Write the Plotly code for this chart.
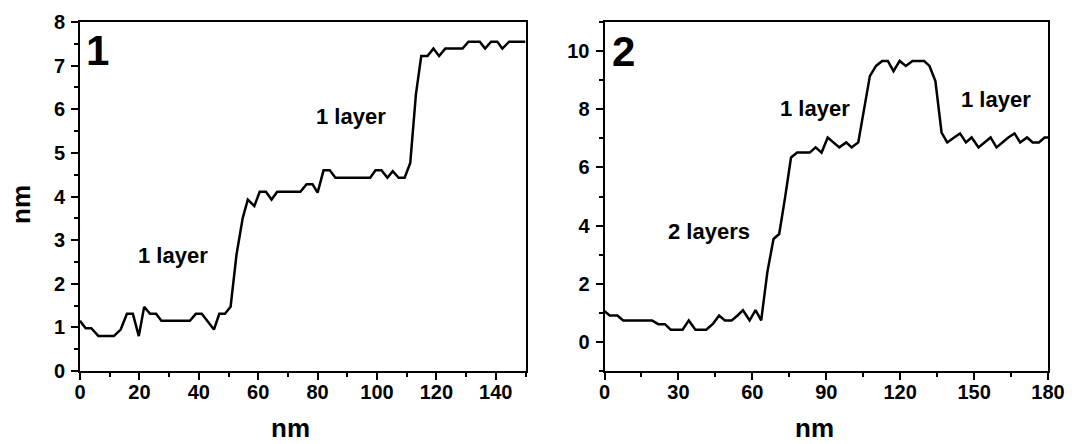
import plotly.graph_objects as go

# Panel 1 profile
x1 = [0, 1.9, 3.8, 6.2, 11.4, 13.7, 15.8, 17.8, 19.8, 21.6, 23.6, 25.6, 27.4, 37, 39, 41,
      45.1, 46.9, 48.8, 50.7, 52.7, 54.8, 56.5, 58.7, 60.5, 62.6, 64.5, 66.4, 74.2, 76.3,
      78.3, 80, 82, 84.1, 86, 97.7, 99.5, 101.5, 103.5, 105.3, 107.3, 109.3, 111.2, 113.1,
      114.9, 117, 119, 120.9, 123, 128.8, 130.8, 132.9, 134.6, 136.4, 138.4, 140.5, 142.2,
      144.5, 150]
y1 = [1.15, 0.98, 0.98, 0.8, 0.8, 0.95, 1.31, 1.31, 0.8, 1.47, 1.31, 1.31, 1.15, 1.15, 1.31, 1.31,
      0.95, 1.31, 1.31, 1.47, 2.67, 3.51, 3.93, 3.78, 4.11, 4.11, 3.93, 4.11, 4.11, 4.28,
      4.28, 4.09, 4.6, 4.6, 4.43, 4.43, 4.6, 4.6, 4.43, 4.58, 4.43, 4.43, 4.77, 6.34,
      7.22, 7.22, 7.39, 7.22, 7.39, 7.39, 7.55, 7.55, 7.55, 7.39, 7.55, 7.55, 7.39,
      7.55, 7.55]

# Panel 2 profile
x2 = [0, 2.1, 5.2, 7.6, 19.3, 21.8, 24.5, 26.9, 31.7, 34.2, 36.9, 41.3, 44.1, 46.5, 48.9,
      51.6, 54, 56.2, 58.9, 61.3, 63.6, 66.1, 68.6, 70.9, 73.3, 75.7, 78.2, 83.3, 85.7,
      88.1, 90.6, 93, 95.3, 98.1, 100.3, 103, 105.4, 107.7, 110.2, 112.7, 115, 117.3,
      119.8, 122.3, 125, 129.7, 131.9, 134.3, 136.8, 139.1, 141.9, 144.3, 146.7, 149,
      151.8, 154.2, 156.7, 159.1, 161.4, 163.9, 166.4, 168.7, 171.5, 173.8, 176.3, 178.6, 180]
y2 = [1.06, 0.91, 0.91, 0.74, 0.74, 0.61, 0.61, 0.42, 0.42, 0.74, 0.42, 0.42, 0.63, 0.91, 0.74,
      0.74, 0.91, 1.09, 0.74, 1.09, 0.74, 2.4, 3.54, 3.71, 4.97, 6.34, 6.51, 6.51, 6.69,
      6.51, 7.03, 6.86, 6.69, 6.86, 6.69, 6.86, 8.06, 9.14, 9.49, 9.66, 9.66, 9.31,
      9.66, 9.49, 9.66, 9.66, 9.49, 8.97, 7.2, 6.86, 7.03, 7.17, 6.86, 7.03,
      6.69, 6.86, 7.03, 6.69, 6.86, 7.03, 7.17, 6.86, 7.03, 6.86, 6.86, 7.03, 7.03]

# Labels
panel_labels = ["1", "2"]
layer_texts_1 = ["1 layer", "1 layer"]
layer_pos_1 = [(31.4, 2.64), (91.3, 5.83)]
layer_texts_2 = ["2 layers", "1 layer", "1 layer"]
layer_pos_2 = [(42.3, 3.81), (85.3, 8.03), (159.0, 8.34)]
axis_title = "nm"

FONT = "Liberation Sans"
W, H = 1072, 444

def px(xp):
    return xp / W

def py(yp):
    return 1 - yp / H

fig = go.Figure()
fig.add_trace(go.Scatter(x=x1, y=y1, mode="lines", line=dict(color="black", width=2.5),
                         xaxis="x", yaxis="y", showlegend=False, hoverinfo="skip"))
fig.add_trace(go.Scatter(x=x2, y=y2, mode="lines", line=dict(color="black", width=2.5),
                         xaxis="x2", yaxis="y2", showlegend=False, hoverinfo="skip"))

def axis_style(**kw):
    d = dict(showline=True, linecolor="black", linewidth=2, mirror=True,
             ticks="outside", ticklen=7, tickwidth=2, tickcolor="black",
             showgrid=False, zeroline=False, automargin=False,
             ticklabeloverflow="allow",
             tickfont=dict(family=FONT, size=20, color="black", weight="bold"))
    d.update(kw)
    return d

minor = lambda dt: dict(dtick=dt, ticklen=4, tickwidth=2, ticks="outside", tickcolor="black")

fig.update_layout(
    width=W, height=H,
    margin=dict(l=0, r=0, t=0, b=0, autoexpand=False),
    paper_bgcolor="white", plot_bgcolor="white",
    xaxis=axis_style(domain=[px(80), px(525.5)], range=[0, 150], tick0=0, dtick=20,
                     minor=minor(10), anchor="y", ticklabelstandoff=-5),
    yaxis=axis_style(domain=[py(371), py(22)], range=[0, 8], tick0=0, dtick=1,
                     minor=minor(0.5), anchor="x", ticklabelstandoff=2),
    xaxis2=axis_style(domain=[px(604.5), px(1048)], range=[0, 180], tick0=0, dtick=30,
                      minor=minor(15), anchor="y2", ticklabelstandoff=-5),
    yaxis2=axis_style(domain=[py(371), py(22)], range=[-1, 11], tick0=0, dtick=2,
                      minor=minor(1), anchor="x2", ticklabelstandoff=2),
)

ann = []
ann.append(dict(x=6.05, y=7.34, xref="x", yref="y", text=panel_labels[0], showarrow=False,
                font=dict(family=FONT, size=42, color="black", weight="bold")))
ann.append(dict(x=7.7, y=9.98, xref="x2", yref="y2", text=panel_labels[1], showarrow=False,
                font=dict(family=FONT, size=42, color="black", weight="bold")))
for t, (ax, ay) in zip(layer_texts_1, layer_pos_1):
    ann.append(dict(x=ax, y=ay, xref="x", yref="y", text=t, showarrow=False,
                    font=dict(family=FONT, size=22, color="black", weight="bold")))
for t, (ax, ay) in zip(layer_texts_2, layer_pos_2):
    ann.append(dict(x=ax, y=ay, xref="x2", yref="y2", text=t, showarrow=False,
                    font=dict(family=FONT, size=22, color="black", weight="bold")))
# axis titles
tfont = dict(family=FONT, size=26, color="black", weight="bold")
ann.append(dict(x=px(290), y=py(428), xref="paper", yref="paper", text=axis_title,
                xanchor="center", yanchor="middle", showarrow=False, font=tfont))
ann.append(dict(x=px(814), y=py(428), xref="paper", yref="paper", text=axis_title,
                xanchor="center", yanchor="middle", showarrow=False, font=tfont))
ann.append(dict(x=px(21), y=py(205), xref="paper", yref="paper", text=axis_title, textangle=-90,
                xanchor="center", yanchor="middle", showarrow=False, font=tfont))
fig.update_layout(annotations=ann)

# remove the default page margin so the figure fills the window exactly
fig.write_html("out.html", config={"displayModeBar": False},
               post_script="document.body.style.margin='0';")
